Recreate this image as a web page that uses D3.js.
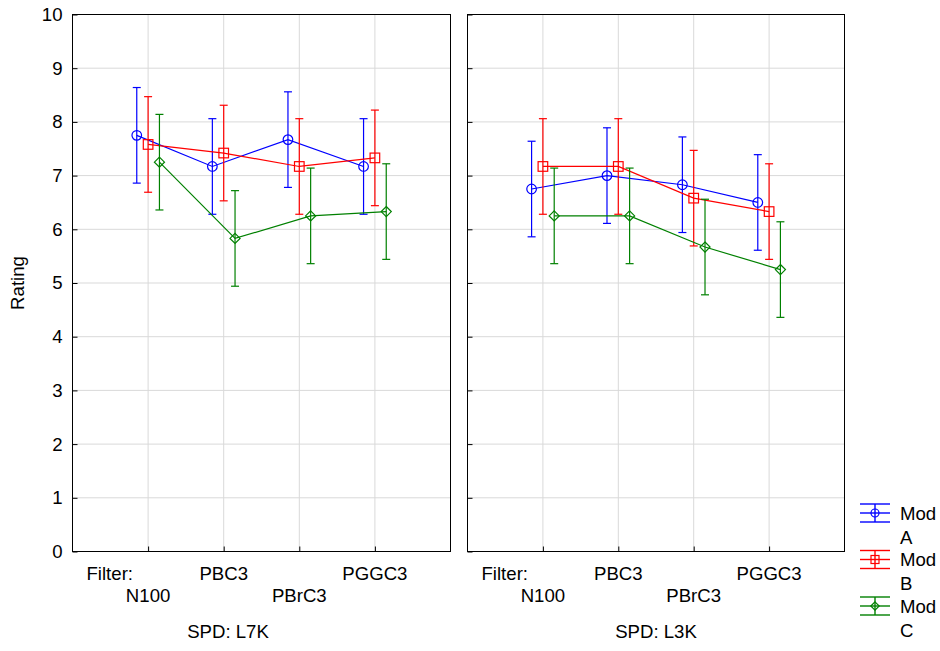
<!DOCTYPE html>
<html>
<head>
<meta charset="utf-8">
<script src="https://cdn.jsdelivr.net/npm/d3@7"></script>
<style>
  html, body { margin: 0; padding: 0; background: #fff; }
  svg { display: block; }
  text { font-family: "Liberation Sans", Arial, sans-serif; fill: #000; }
</style>
</head>
<body>
<svg id="chart" width="940" height="651"></svg>
<script>
// ---- data ----
const categories = ["N100", "PBC3", "PBrC3", "PGGC3"];
const panelNames = ["SPD: L7K", "SPD: L3K"];
const seriesNames = ["Mod A", "Mod B", "Mod C"];
const seriesColors = ["#0000ff", "#ff0000", "#008000"];
const seriesShapes = ["circle", "square", "diamond"];
const yTicks = [0, 1, 2, 3, 4, 5, 6, 7, 8, 9, 10];

const modA_L7K = [7.75, 7.17, 7.67, 7.17];
const modB_L7K = [7.58, 7.42, 7.17, 7.33];
const modC_L7K = [7.25, 5.83, 6.25, 6.33];
const modA_L3K = [6.75, 7.00, 6.83, 6.50];
const modB_L3K = [7.17, 7.17, 6.58, 6.33];
const modC_L3K = [6.25, 6.25, 5.67, 5.25];
const ciHalfWidth = [0.89, 0.89, 0.89, 0.89];

const panelValues = [
  [modA_L7K, modB_L7K, modC_L7K],
  [modA_L3K, modB_L3K, modC_L3K]
];

// ---- layout ----
const svg = d3.select("#chart");
const plotTop = 14.5, plotBottom = 551.5;
const panelX = [[72.5, 450.5], [467.5, 844.5]];
const fontSize = 18.6;
const gridColor = "#d9d9d9";

const y = d3.scaleLinear().domain([0, 10]).range([plotBottom, plotTop]);
const offset = d3.scalePoint().domain(seriesNames).range([-0.15, 0.15]);

function drawMarker(g, shape, cx, cy, color, s) {
  if (shape === "circle") {
    g.append("circle").attr("cx", cx).attr("cy", cy).attr("r", s)
      .attr("fill", "none").attr("stroke", color).attr("stroke-width", 1.2);
  } else if (shape === "square") {
    g.append("rect").attr("x", cx - s).attr("y", cy - s)
      .attr("width", 2 * s).attr("height", 2 * s)
      .attr("fill", "none").attr("stroke", color).attr("stroke-width", 1.2);
  } else {
    const d = s * 1.05;
    g.append("path")
      .attr("d", `M${cx},${cy - d}L${cx + d},${cy}L${cx},${cy + d}L${cx - d},${cy}Z`)
      .attr("fill", "none").attr("stroke", color).attr("stroke-width", 1.2);
  }
}

panelNames.forEach((pname, p) => {
  const [x0, x1] = panelX[p];
  const x = d3.scaleLinear().domain([0, categories.length + 1]).range([x0, x1]);
  const g = svg.append("g");

  // grid
  g.selectAll(".hg").data(yTicks.filter(t => t > 0 && t < 10)).enter()
    .append("line")
    .attr("x1", x0).attr("x2", x1)
    .attr("y1", d => y(d)).attr("y2", d => y(d))
    .attr("stroke", gridColor).attr("stroke-width", 1);
  g.selectAll(".vg").data(categories).enter()
    .append("line")
    .attr("x1", (d, i) => x(i + 1)).attr("x2", (d, i) => x(i + 1))
    .attr("y1", plotTop).attr("y2", plotBottom)
    .attr("stroke", gridColor).attr("stroke-width", 1);

  // y axis (ticks inward)
  const yAxis = d3.axisLeft(y).tickValues(yTicks).tickSizeInner(-5).tickSizeOuter(0)
    .tickPadding(10).tickFormat(p === 0 ? d3.format("d") : () => "");
  const ya = g.append("g").attr("transform", `translate(${x0},0)`).call(yAxis);
  ya.select(".domain").remove();
  ya.selectAll("line").attr("stroke", "#000");
  ya.selectAll("text").style("font-size", fontSize + "px")
    .style("font-family", "'Liberation Sans', Arial, sans-serif");

  // x axis ticks (inward, bottom)
  const xAxis = d3.axisBottom(x).tickValues(categories.map((c, i) => i + 1))
    .tickSizeInner(-5).tickSizeOuter(0).tickFormat(() => "");
  const xa = g.append("g").attr("transform", `translate(0,${plotBottom})`).call(xAxis);
  xa.select(".domain").remove();
  xa.selectAll("line").attr("stroke", "#000");

  // frame
  g.append("rect").attr("x", x0).attr("y", plotTop)
    .attr("width", x1 - x0).attr("height", plotBottom - plotTop)
    .attr("fill", "none").attr("stroke", "#000").attr("stroke-width", 1);

  // category labels
  g.append("text").attr("x", x0 + 14).attr("y", 580)
    .style("font-size", fontSize + "px").text("Filter:");
  categories.forEach((c, i) => {
    g.append("text").attr("x", x(i + 1)).attr("y", i % 2 === 0 ? 602 : 580)
      .attr("text-anchor", "middle").style("font-size", fontSize + "px").text(c);
  });
  const titleX = p === 0 ? 228 : 656;
  g.append("text").attr("x", titleX).attr("y", 638)
    .attr("text-anchor", "middle").style("font-size", fontSize + "px").text(pname);

  // series
  seriesNames.forEach((s, si) => {
    const vals = panelValues[p][si];
    const color = seriesColors[si];
    const sg = g.append("g");
    const px = (i) => x(i + 1 + offset(s));
    // error bars
    vals.forEach((v, i) => {
      const cx = px(i);
      const lo = y(v - ciHalfWidth[i]), hi = y(v + ciHalfWidth[i]);
      sg.append("line").attr("x1", cx).attr("x2", cx).attr("y1", lo).attr("y2", hi)
        .attr("stroke", color).attr("stroke-width", 1.2);
      [lo, hi].forEach(yy => sg.append("line")
        .attr("x1", cx - 4).attr("x2", cx + 4).attr("y1", yy).attr("y2", yy)
        .attr("stroke", color).attr("stroke-width", 1.2));
    });
    // line
    sg.append("path").datum(vals)
      .attr("d", d3.line().x((d, i) => px(i)).y(d => y(d)))
      .attr("fill", "none").attr("stroke", color).attr("stroke-width", 1.2);
    // markers
    vals.forEach((v, i) => drawMarker(sg, seriesShapes[si], px(i), y(v), color, 4.8));
  });
});

// y title
svg.append("text").attr("transform", "translate(24,283) rotate(-90)")
  .attr("text-anchor", "middle").style("font-size", fontSize + "px").text("Rating");

// legend
const legendY = d3.scalePoint().domain(seriesNames).range([513, 606]);
seriesNames.forEach((s, si) => {
  const cy = legendY(s);
  const color = seriesColors[si];
  const lg = svg.append("g");
  [-9, 0, 9].forEach(dy => lg.append("line")
    .attr("x1", 860).attr("x2", 890).attr("y1", cy + dy).attr("y2", cy + dy)
    .attr("stroke", color).attr("stroke-width", 1.4));
  lg.append("line").attr("x1", 875).attr("x2", 875).attr("y1", cy - 9).attr("y2", cy + 9)
    .attr("stroke", color).attr("stroke-width", 1.4);
  drawMarker(lg, seriesShapes[si], 875, cy, color, 4);
  const parts = s.split(" ");
  lg.append("text").attr("x", 900).attr("y", cy + 6.5)
    .style("font-size", fontSize + "px").text(parts[0]);
  lg.append("text").attr("x", 900).attr("y", cy + 30.5)
    .style("font-size", fontSize + "px").text(parts[1]);
});
</script>
</body>
</html>
